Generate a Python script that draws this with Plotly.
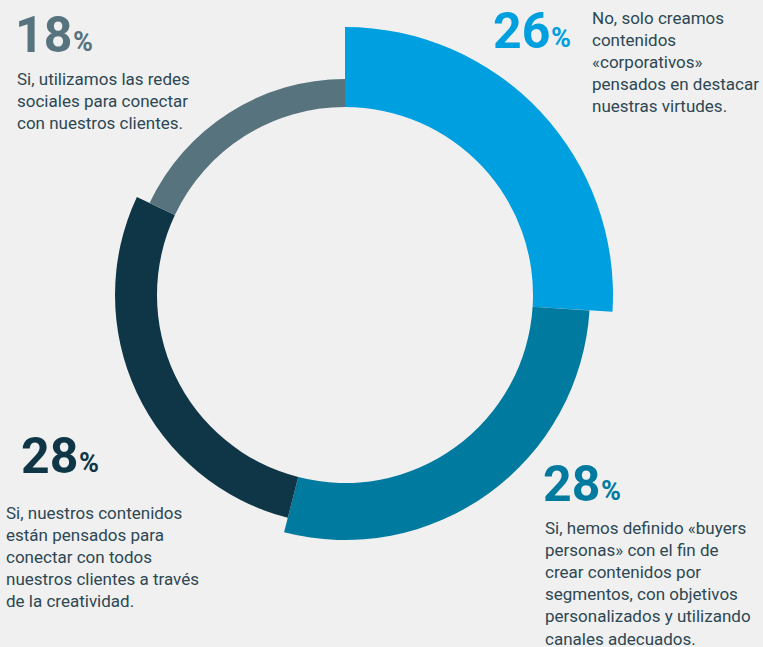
import plotly.graph_objects as go

W, H = 763, 647

# Data
labels = ["No, solo creamos contenidos «corporativos»",
          "Si, hemos definido «buyers personas»",
          "Si, nuestros contenidos están pensados",
          "Si, utilizamos las redes sociales"]
values = [26, 28, 28, 18]
ring_thickness = [80, 57, 42, 28]
colors = ["#009fe0", "#007a9e", "#0f3646", "#57737e"]
pct_labels = ["26", "28", "28", "18"]
descriptions = [
    "No, solo creamos<br>contenidos<br>«corporativos»<br>pensados en destacar<br>nuestras virtudes.",
    "Si, hemos definido «buyers<br>personas» con el fin de<br>crear contenidos por<br>segmentos, con objetivos<br>personalizados y utilizando<br>canales adecuados.",
    "Si, nuestros contenidos<br>están pensados para<br>conectar con todos<br>nuestros clientes a través<br>de la creatividad.",
    "Si, utilizamos las redes<br>sociales para conectar<br>con nuestros clientes.",
]

inner_r = 188
R = 270
cx, cy = 345, 295

total = sum(values)
thetas, widths = [], []
acc = 0
for v in values:
    w = v / total * 360
    thetas.append(acc + w / 2)
    widths.append(w)
    acc += w

fig = go.Figure()
fig.add_trace(go.Barpolar(
    r=ring_thickness, base=[inner_r] * len(values), theta=thetas, width=widths,
    marker=dict(color=colors, line=dict(width=0)),
    hovertext=labels, showlegend=False,
))

def px(x):
    return x / W

def py(y):
    return 1 - y / H

fig.update_layout(
    width=W, height=H,
    margin=dict(l=0, r=0, t=0, b=0),
    paper_bgcolor="#f0f0f0",
    plot_bgcolor="#f0f0f0",
    font=dict(family="Roboto, sans-serif"),
    polar=dict(
        domain=dict(x=[px(cx - R), px(cx + R)], y=[py(cy + R), py(cy - R)]),
        bgcolor="rgba(0,0,0,0)",
        radialaxis=dict(range=[0, R], visible=False, showgrid=False),
        angularaxis=dict(rotation=90, direction="clockwise", visible=False,
                         showgrid=False, showline=False, showticklabels=False),
        hole=0,
    ),
)

text_color = "#2d4753"
# positions: (number x, number top y, text x, text top y)
pos = [
    (491, 0, 590, 6),      # 26%
    (541, 453, 543, 516),  # 28% right
    (19, 425, 4, 501),     # 28% left
    (13, 4, 15, 67),       # 18%
]
num_w = 58
for i in range(len(values)):
    nx, ny, tx, ty = pos[i]
    fig.add_annotation(x=px(nx), y=py(ny), xref="paper", yref="paper",
                       xanchor="left", yanchor="top", showarrow=False,
                       text="<b>" + pct_labels[i] + "</b>",
                       font=dict(size=50, color=colors[i], family="Roboto, sans-serif"))
    fig.add_annotation(x=px(nx + num_w), y=py(ny + 20), xref="paper", yref="paper",
                       xanchor="left", yanchor="top", showarrow=False,
                       text="<b>%</b>",
                       font=dict(size=27, color=colors[i], family="Roboto, sans-serif"))
    fig.add_annotation(x=px(tx), y=py(ty), xref="paper", yref="paper",
                       xanchor="left", yanchor="top", align="left", showarrow=False,
                       text=descriptions[i],
                       font=dict(size=17, color=text_color, family="Roboto, sans-serif"))

fig.write_html("out.html", config={"displayModeBar": False},
               post_script="document.body.style.margin='0';document.body.style.overflow='hidden';")
